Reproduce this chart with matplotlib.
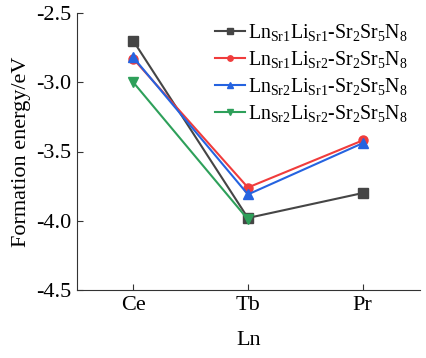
import matplotlib
matplotlib.use('Agg')
import matplotlib.pyplot as plt

plt.rcParams['font.family'] = 'Liberation Serif'
plt.rcParams['mathtext.fontset'] = 'custom'
plt.rcParams['mathtext.rm'] = 'Liberation Serif'
plt.rcParams['mathtext.it'] = 'Liberation Serif:italic'

categories = ['Ce', 'Tb', 'Pr']
labels = [
    r'Ln$_{\mathrm{Sr1}}$Li$_{\mathrm{Sr1}}$-Sr$_2$Sr$_5$N$_8$',
    r'Ln$_{\mathrm{Sr1}}$Li$_{\mathrm{Sr2}}$-Sr$_2$Sr$_5$N$_8$',
    r'Ln$_{\mathrm{Sr2}}$Li$_{\mathrm{Sr1}}$-Sr$_2$Sr$_5$N$_8$',
    r'Ln$_{\mathrm{Sr2}}$Li$_{\mathrm{Sr2}}$-Sr$_2$Sr$_5$N$_8$',
]
sr1_sr1 = [-2.70, -3.98, -3.80]
sr1_sr2 = [-2.83, -3.76, -3.42]
sr2_sr1 = [-2.82, -3.81, -3.44]
sr2_sr2 = [-3.00, -3.99]

series = [sr1_sr1, sr1_sr2, sr2_sr1, sr2_sr2]
colors = ['#454545', '#f03c3c', '#2563e0', '#2ea05a']
markers = ['s', 'o', '^', 'v']

fig = plt.figure(figsize=(4.26, 3.58), dpi=100)
ax = fig.add_axes([77 / 426, 1 - 290 / 358, 343 / 426, 277 / 358])

for vals, lab, c, m in zip(series, labels, colors, markers):
    ax.plot(range(len(vals)), vals, color=c, marker=m, markersize=6.5,
            linewidth=1.5, label=lab)

ax.set_xlim(-0.49, 2.5)
ax.set_ylim(-4.5, -2.5)
ax.set_xticks(range(len(categories)))
ax.set_xticklabels(categories)
ax.set_yticks([-2.5, -3.0, -3.5, -4.0, -4.5])
ax.set_yticklabels(['-2.5', '-3.0', '-3.5', '-4.0', '-4.5'])
ax.tick_params(direction='in', labelsize=16, length=4, pad=4,
               colors='#333333', labelcolor='black')
ax.spines['top'].set_visible(False)
ax.spines['right'].set_visible(False)
for s in ['left', 'bottom']:
    ax.spines[s].set_color('#333333')
ax.set_xlabel('Ln', fontsize=16, labelpad=12)
ax.set_ylabel('Formation energy/eV', fontsize=16, labelpad=4)

ax.legend(loc='upper right', bbox_to_anchor=(1.0, 1.01), frameon=False, fontsize=14.3,
          handlelength=1.5, handletextpad=0.15, labelspacing=0.3, markerscale=0.6,
          borderaxespad=0.2)

fig.savefig('out.png', dpi=100)
